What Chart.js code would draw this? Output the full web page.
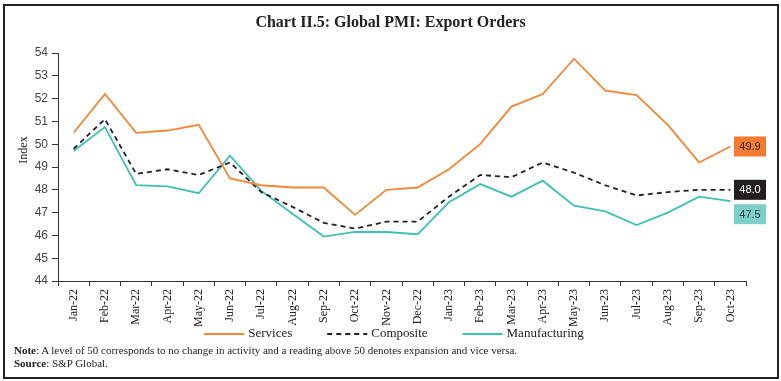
<!DOCTYPE html>
<html>
<head>
<meta charset="utf-8">
<script src="https://cdn.jsdelivr.net/npm/chart.js@4.4.1/dist/chart.umd.min.js"></script>
<style>
  html, body { margin: 0; padding: 0; background: #fff; }
  #wrap { position: relative; width: 781px; height: 381px; overflow: hidden; background: #fff; }
  #c { position: absolute; left: 0; top: 0; }
  #frame { position: absolute; left: 3px; top: 4px; width: 772px; height: 371px; border: 2px solid #222; pointer-events: none; }
  #note { position: absolute; left: 14px; top: 344px; font-family: "Liberation Serif", serif; font-size: 11px; line-height: 13px; color: #222; white-space: nowrap; }
  #note b { font-weight: bold; }
</style>
</head>
<body>
<div id="wrap">
  <canvas id="c" width="781" height="381"></canvas>
  <div id="frame"></div>
  <div id="note">
    <div><b>Note</b>: A level of 50 corresponds to no change in activity and a reading above 50 denotes expansion and vice versa.</div>
    <div><b>Source</b>: S&amp;P Global.</div>
  </div>
</div>
<script>
const categories = ["Jan-22","Feb-22","Mar-22","Apr-22","May-22","Jun-22","Jul-22","Aug-22","Sep-22","Oct-22","Nov-22","Dec-22",
                    "Jan-23","Feb-23","Mar-23","Apr-23","May-23","Jun-23","Jul-23","Aug-23","Sep-23","Oct-23"];
const services      = [50.5, 52.2, 50.5, 50.6, 50.85, 48.5, 48.2, 48.1, 48.1, 46.9, 48.0, 48.1,
                       48.9, 50.0, 51.65, 52.2, 53.75, 52.35, 52.15, 50.85, 49.2, 49.9];
const composite     = [49.8, 51.1, 48.7, 48.9, 48.65, 49.2, 47.9, 47.25, 46.55, 46.3, 46.6, 46.6,
                       47.7, 48.65, 48.55, 49.2, 48.75, 48.2, 47.75, 47.9, 48.0, 48.0];
const manufacturing = [49.7, 50.75, 48.2, 48.15, 47.85, 49.5, 47.95, 46.95, 45.95, 46.15, 46.15, 46.05,
                       47.45, 48.25, 47.7, 48.4, 47.3, 47.05, 46.45, 47.0, 47.7, 47.5];
const yTicks = [44, 45, 46, 47, 48, 49, 50, 51, 52, 53, 54];

const seriesNames = ["Services", "Composite", "Manufacturing"];

const endLabelPlugin = {
  id: 'endLabels',
  afterDatasetsDraw(chart) {
    const ctx = chart.ctx;
    const styles = [
      { bg: '#F47C30', fg: '#2b2b2b', dy: 0 },
      { bg: '#231F20', fg: '#ffffff', dy: 0 },
      { bg: '#7DD0CA', fg: '#2b3b3b', dy: 13 }
    ];
    const left = chart.chartArea.right - 12;
    ctx.save();
    ctx.font = '11px "Liberation Sans", Arial, sans-serif';
    ctx.textAlign = 'center';
    ctx.textBaseline = 'middle';
    chart.data.datasets.forEach((ds, i) => {
      const meta = chart.getDatasetMeta(i);
      const pt = meta.data[meta.data.length - 1];
      const s = styles[i];
      const cy = pt.y + s.dy;
      ctx.fillStyle = s.bg;
      ctx.fillRect(left, cy - 10, 32, 20);
      ctx.fillStyle = s.fg;
      ctx.fillText(ds.data[ds.data.length - 1].toFixed(1), left + 16, cy + 0.5);
    });
    ctx.restore();
  }
};

const yTitlePlugin = {
  id: 'yTitle',
  afterDraw(chart) {
    const ctx = chart.ctx;
    ctx.save();
    ctx.translate(24, 150);
    ctx.rotate(-Math.PI / 2);
    ctx.font = '12px "Liberation Serif", serif';
    ctx.fillStyle = '#222';
    ctx.textAlign = 'center';
    ctx.textBaseline = 'middle';
    ctx.fillText('Index', 0, 0);
    ctx.restore();
  }
};

const legendPlugin = {
  id: 'lineLegend',
  afterDraw(chart) {
    const ctx = chart.ctx;
    const lineW = 40, textGap = 4, itemGap = 35, centerX = 394, y = 334;
    ctx.save();
    ctx.font = '13px "Liberation Serif", serif';
    const items = chart.data.datasets.map(ds => ({ ds, tw: ctx.measureText(ds.label).width }));
    const total = items.reduce((a, it) => a + lineW + textGap + it.tw, 0) + itemGap * (items.length - 1);
    let x = centerX - total / 2;
    items.forEach(it => {
      ctx.beginPath();
      ctx.strokeStyle = it.ds.borderColor;
      ctx.lineWidth = it.ds.borderWidth;
      ctx.setLineDash(it.ds.borderDash || []);
      ctx.moveTo(x, y);
      ctx.lineTo(x + lineW, y);
      ctx.stroke();
      ctx.setLineDash([]);
      ctx.fillStyle = '#222';
      ctx.textAlign = 'left';
      ctx.textBaseline = 'middle';
      ctx.fillText(it.ds.label, x + lineW + textGap, y);
      x += lineW + textGap + it.tw + itemGap;
    });
    ctx.restore();
  }
};

new Chart(document.getElementById('c'), {
  type: 'line',
  data: {
    labels: categories,
    datasets: [
      { label: seriesNames[0], data: services, borderColor: '#F58634', backgroundColor: '#F58634', borderWidth: 1.8, pointRadius: 0, tension: 0 },
      { label: seriesNames[1], data: composite, borderColor: '#222222', backgroundColor: '#222222', borderWidth: 1.8, borderDash: [5, 4], pointRadius: 0, tension: 0 },
      { label: seriesNames[2], data: manufacturing, borderColor: '#3EC1B5', backgroundColor: '#3EC1B5', borderWidth: 1.8, pointRadius: 0, tension: 0 }
    ]
  },
  options: {
    responsive: false,
    animation: false,
    devicePixelRatio: 1,
    layout: { padding: { left: 0, right: 0, top: 0, bottom: 55 } },
    plugins: {
      title: {
        display: true,
        text: 'Chart II.5: Global PMI: Export Orders',
        font: { family: '"Liberation Serif", serif', size: 16, weight: 'bold' },
        color: '#222',
        padding: { top: 13, bottom: 20.8 }
      },
      legend: { display: false },
      tooltip: { enabled: false }
    },
    scales: {
      x: {
        offset: true,
        grid: { offset: true, drawOnChartArea: false, drawTicks: true, tickLength: 5, color: '#333' },
        border: { display: true, color: '#333', width: 1 },
        ticks: {
          autoSkip: false, minRotation: 90, maxRotation: 90, padding: 3,
          color: '#222',
          font: { family: '"Liberation Serif", serif', size: 12 }
        },
        afterFit(scale) { scale.height = 45; }
      },
      y: {
        min: 44, max: 54,
        grid: { drawOnChartArea: false, drawTicks: true, tickLength: 6, color: '#333' },
        border: { display: true, color: '#333', width: 1 },
        afterBuildTicks(scale) { scale.ticks = yTicks.map(v => ({ value: v })); },
        ticks: {
          padding: 4,
          color: '#444',
          font: { family: '"Liberation Sans", Arial, sans-serif', size: 12 }
        },
        afterFit(scale) { scale.width = 58; }
      },
      yRight: {
        position: 'right',
        display: true,
        min: 44, max: 54,
        grid: { display: false, drawOnChartArea: false, drawTicks: false },
        border: { display: false },
        ticks: { display: false },
        afterFit(scale) { scale.width = 35; }
      }
    }
  },
  plugins: [endLabelPlugin, yTitlePlugin, legendPlugin]
});
</script>
</body>
</html>
